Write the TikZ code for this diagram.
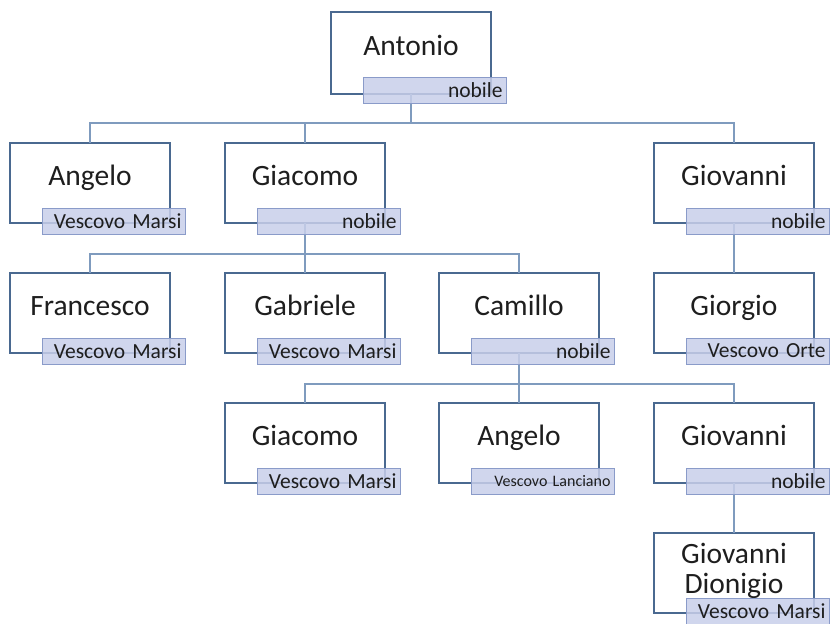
\documentclass[tikz,border=0pt]{standalone}
\usepackage{fontspec}
\setmainfont{Carlito}
\definecolor{boxc}{HTML}{4A6990}
\definecolor{labfill}{HTML}{C8CFEA}
\definecolor{labdraw}{HTML}{8A9BC9}
\definecolor{connc}{HTML}{7F9BBE}
\definecolor{txt}{HTML}{1E1E1E}
\tikzset{
 person/.style={draw=boxc, line width=1.8pt, minimum width=160pt, minimum height=80pt, anchor=north west, inner sep=0pt, outer sep=0pt},
 pname/.style={font=\fontsize{29.5}{30}\selectfont, anchor=base, text=txt, inner sep=0pt},
 role/.style={draw=labdraw, line width=0.8pt, fill=labfill, fill opacity=0.85, text opacity=1, text=txt, minimum height=26pt, text width=136pt, inner xsep=3.5pt, inner ysep=0pt, outer sep=0pt, align=right, anchor=north west, font=\fontsize{21.5}{22}\selectfont},
 smallrole/.style={role, font=\fontsize{16}{17}\selectfont},
 conn/.style={draw=connc, line width=1.2pt}
}
\begin{document}
\begin{tikzpicture}[x=1pt,y=-1pt]
\useasboundingbox (0,0) rectangle (831,624);
% boxes
\node[person, minimum height=82pt] (p1) at (331,12) {};
\node[person] (p2) at (10,143) {};
\node[person] (p3) at (225,143) {};
\node[person] (p4) at (654,143) {};
\node[person] (p5) at (10,273) {};
\node[person] (p6) at (225,273) {};
\node[person] (p7) at (439,273) {};
\node[person] (p8) at (654,273) {};
\node[person] (p9) at (225,403) {};
\node[person] (p10) at (439,403) {};
\node[person] (p11) at (654,403) {};
\node[person] (p12) at (654,533) {};
% names
\node[pname] (n1) at ([yshift=-43pt]p1.north) {Antonio};
\node[pname] (n2) at ([yshift=-42pt]p2.north) {Angelo};
\node[pname] (n3) at ([yshift=-42pt]p3.north) {Giacomo};
\node[pname] (n4) at ([yshift=-42pt]p4.north) {Giovanni};
\node[pname] (n5) at ([yshift=-42pt]p5.north) {Francesco};
\node[pname] (n6) at ([yshift=-42pt]p6.north) {Gabriele};
\node[pname] (n7) at ([yshift=-42pt]p7.north) {Camillo};
\node[pname] (n8) at ([yshift=-42pt]p8.north) {Giorgio};
\node[pname] (n9) at ([yshift=-42pt]p9.north) {Giacomo};
\node[pname] (n10) at ([yshift=-42pt]p10.north) {Angelo};
\node[pname] (n11) at ([yshift=-42pt]p11.north) {Giovanni};
\node[pname, anchor=center, align=center] (n12) at ([yshift=-38pt]p12.north) {Giovanni\\Dionigio};
% connectors
\path (p1.south) ++(0,29) coordinate (j1);
\path (p3.south) ++(0,31) coordinate (j2);
\path (p7.south) ++(0,31) coordinate (j3);
\draw[conn] (p1.south) -- (j1) -| (p2.north);
\draw[conn] (j1) -| (p3.north);
\draw[conn] (j1) -| (p4.north);
\draw[conn] (p3.south) -- (j2) -| (p5.north);
\draw[conn] (j2) -| (p6.north);
\draw[conn] (j2) -| (p7.north);
\draw[conn] (p4.south) -- (p8.north);
\draw[conn] (p7.south) -- (j3) -| (p9.north);
\draw[conn] (j3) -| (p10.north);
\draw[conn] (j3) -| (p11.north);
\draw[conn] (p11.south) -- (p12.north);
% roles
\node[role] (r1) at ([xshift=32pt,yshift=-65pt]p1.north west) {nobile};
\node[role] (r2) at ([xshift=32pt,yshift=-65pt]p2.north west) {Vescovo Marsi};
\node[role] (r3) at ([xshift=32pt,yshift=-65pt]p3.north west) {nobile};
\node[role] (r4) at ([xshift=32pt,yshift=-65pt]p4.north west) {nobile};
\node[role] (r5) at ([xshift=32pt,yshift=-65pt]p5.north west) {Vescovo Marsi};
\node[role] (r6) at ([xshift=32pt,yshift=-65pt]p6.north west) {Vescovo Marsi};
\node[role] (r7) at ([xshift=32pt,yshift=-65pt]p7.north west) {nobile};
\node[role] (r8) at ([xshift=32pt,yshift=-65pt]p8.north west) {Vescovo Orte};
\node[role] (r9) at ([xshift=32pt,yshift=-65pt]p9.north west) {Vescovo Marsi};
\node[smallrole] (r10) at ([xshift=32pt,yshift=-65pt]p10.north west) {Vescovo Lanciano};
\node[role] (r11) at ([xshift=32pt,yshift=-65pt]p11.north west) {nobile};
\node[role] (r12) at ([xshift=32pt,yshift=-65pt]p12.north west) {Vescovo Marsi};
\end{tikzpicture}
\end{document}
